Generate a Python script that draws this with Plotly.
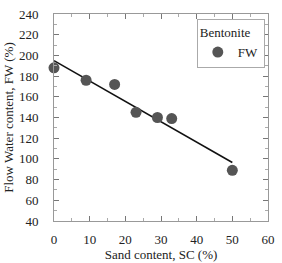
import plotly.graph_objects as go

sand = [0, 9, 17, 23, 29, 33, 50]
fw = [188, 176, 172, 145, 140, 139, 89]
fit_x = [0, 50]
fit_y = [195, 96.5]

font = "Liberation Serif, Times New Roman, serif"
fig = go.Figure()
fig.add_trace(go.Scatter(x=fit_x, y=fit_y, mode="lines", line=dict(color="#111", width=1.5), showlegend=False))
fig.add_trace(go.Scatter(x=sand, y=fw, mode="markers", name="FW", cliponaxis=False,
                         marker=dict(color="#555555", size=11)))

axis_common = dict(showgrid=False, zeroline=False, showline=True, linecolor="#999", linewidth=1,
                   mirror="allticks", ticks="inside", ticklen=5, tickcolor="#777",
                   tickfont=dict(family=font, size=13, color="#222"),
                   minor=dict(ticks="inside", ticklen=3, tickcolor="#aaa"))
fig.update_xaxes(range=[0, 60], dtick=10, minor_dtick=5, ticklabelstandoff=6,
                 title=dict(text="Sand content, SC (%)", font=dict(family=font, size=13, color="#222"), standoff=0),
                 **axis_common)
fig.update_yaxes(range=[40, 240], dtick=20, minor_dtick=10, ticklabelstandoff=12,
                 title=dict(text="Flow Water content, FW (%)", font=dict(family=font, size=13, color="#222"), standoff=2),
                 **axis_common)
fig.update_layout(width=282, height=263, margin=dict(l=54, r=9, t=7, b=37),
                  plot_bgcolor="white", paper_bgcolor="white",
                  legend=dict(title=dict(text="Bentonite", font=dict(family=font, size=13, color="#222"), side="top"),
                              font=dict(family=font, size=13, color="#222"),
                              x=0.985, y=0.975, xanchor="right", yanchor="top",
                              bordercolor="#aaa", borderwidth=1, bgcolor="white"))
fig.write_html("out.html")
